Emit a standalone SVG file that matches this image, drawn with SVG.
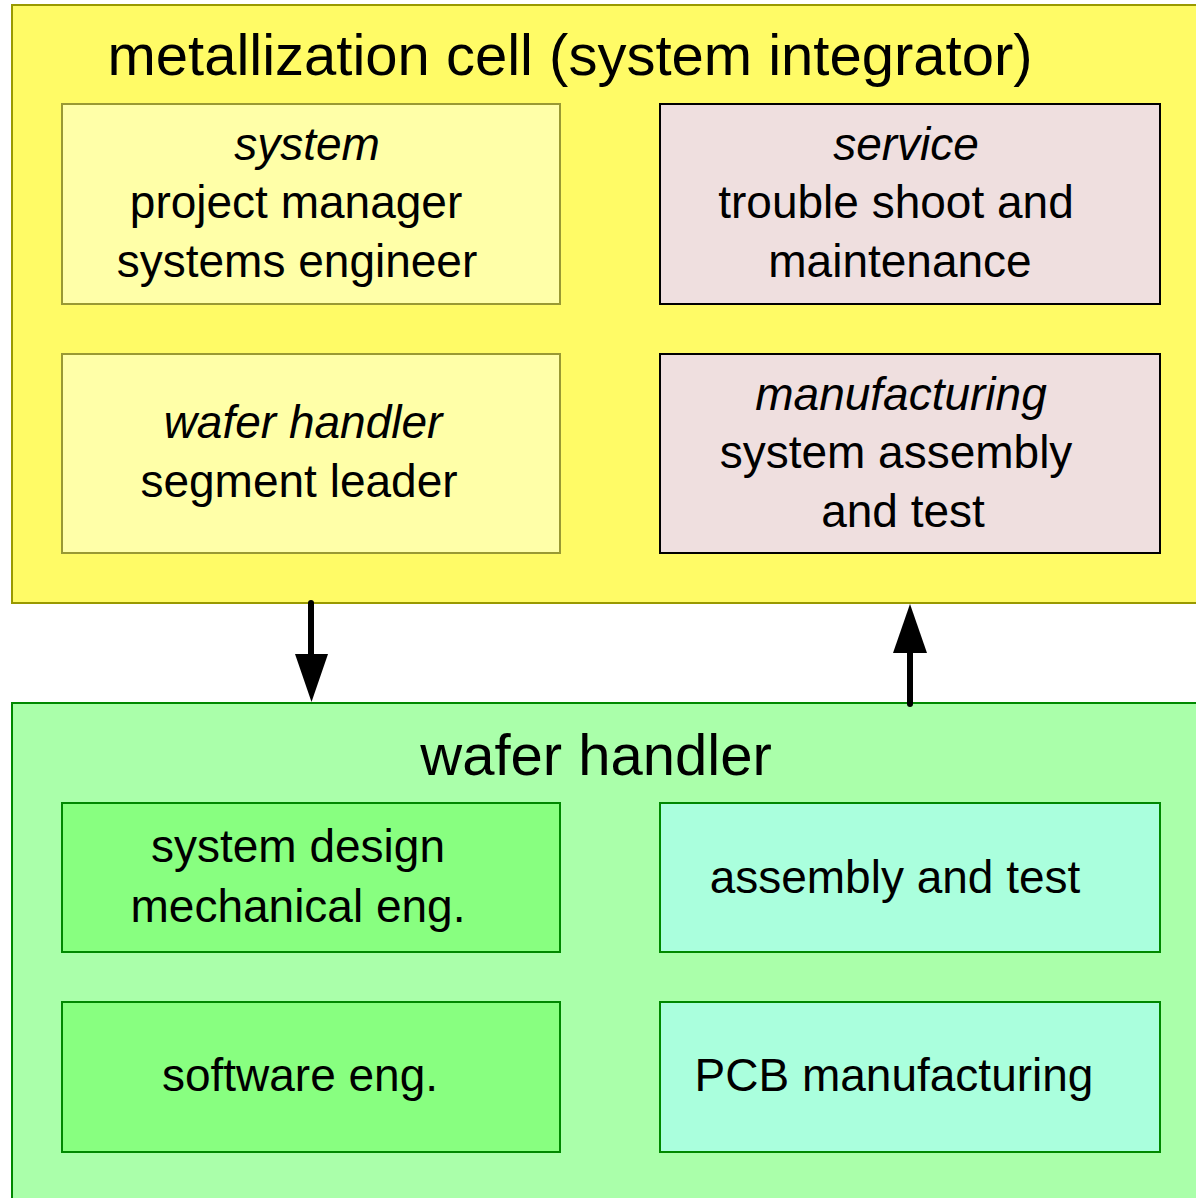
<svg xmlns="http://www.w3.org/2000/svg" width="1196" height="1198" viewBox="0 0 1196 1198">
<style>
text{font-family:"Liberation Sans",Arial,sans-serif;fill:#000;text-anchor:middle}
.t{font-size:58px}
.l{font-size:46px}
.i{font-style:italic}
.outerY{fill:#FFFB66;stroke:#999900;stroke-width:2}
.innerY{fill:#FFFFA8;stroke:#999933;stroke-width:2}
.pink{fill:#EFDFDF;stroke:#000;stroke-width:2}
.outerG{fill:#AAFFAA;stroke:#008800;stroke-width:2}
.innerG{fill:#88FF80;stroke:#008800;stroke-width:2}
.cyan{fill:#AAFFDD;stroke:#008800;stroke-width:2}
.shaft{stroke:#000;stroke-width:6;stroke-linecap:round;fill:none}
</style>
<rect width="1196" height="1198" fill="#fff"/>
<g id="metallization-cell">
<rect class="outerY" x="12" y="5" width="1200" height="598"/>
<text class="t" x="570" y="75">metallization cell (system integrator)</text>
</g>
<g id="system">
<rect class="innerY" x="62" y="104" width="498" height="200"/>
<text class="l i" x="307" y="160">system</text>
<text class="l" x="296" y="218">project manager</text>
<text class="l" x="297" y="277">systems engineer</text>
</g>
<g id="service">
<rect class="pink" x="660" y="104" width="500" height="200"/>
<text class="l i" x="906" y="160">service</text>
<text class="l" x="896" y="218">trouble shoot and</text>
<text class="l" x="900" y="277">maintenance</text>
</g>
<g id="wafer-handler-leader">
<rect class="innerY" x="62" y="354" width="498" height="199"/>
<text class="l i" x="303" y="438">wafer handler</text>
<text class="l" x="299" y="497">segment leader</text>
</g>
<g id="manufacturing">
<rect class="pink" x="660" y="354" width="500" height="199"/>
<text class="l i" x="901" y="410">manufacturing</text>
<text class="l" x="896" y="468">system assembly</text>
<text class="l" x="903" y="527">and test</text>
</g>
<g id="wafer-handler">
<rect class="outerG" x="12" y="703" width="1200" height="510"/>
<text class="t" x="596" y="775">wafer handler</text>
</g>
<g id="system-design">
<rect class="innerG" x="62" y="803" width="498" height="149"/>
<text class="l" x="298" y="862">system design</text>
<text class="l" x="298" y="922">mechanical eng.</text>
</g>
<g id="assembly-test">
<rect class="cyan" x="660" y="803" width="500" height="149"/>
<text class="l" x="895" y="893">assembly and test</text>
</g>
<g id="software">
<rect class="innerG" x="62" y="1002" width="498" height="150"/>
<text class="l" x="300" y="1091">software eng.</text>
</g>
<g id="pcb">
<rect class="cyan" x="660" y="1002" width="500" height="150"/>
<text class="l" x="894" y="1091">PCB manufacturing</text>
</g>
<g id="connectors">
<line class="shaft" x1="311" y1="603" x2="311" y2="660"/>
<polygon points="295,654 328,654 311.5,702"/>
<line class="shaft" x1="910" y1="704" x2="910" y2="648"/>
<polygon points="893,653 927,653 910,604"/>
</g>
</svg>
